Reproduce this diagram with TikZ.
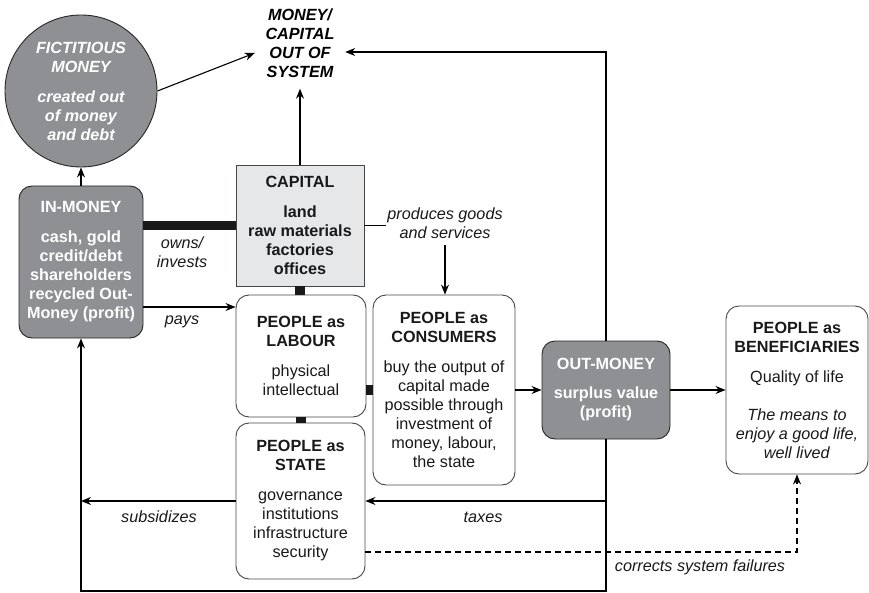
\documentclass[tikz,border=0pt]{standalone}
\usepackage{fontspec}
\setmainfont{Liberation Sans}
\usetikzlibrary{arrows.meta}
\definecolor{dk}{RGB}{143,144,147}
\definecolor{lt}{RGB}{230,231,233}
\definecolor{bd}{RGB}{70,70,70}
\begin{document}
\begin{tikzpicture}[x=1pt,y=-1pt,
  font=\fontsize{16.2}{19}\selectfont,
  box/.style={draw=bd, line width=0.9pt, rounded corners=13pt, align=center, inner sep=0pt, text=black!90},
  dbox/.style={box, fill=dk, draw=black!85, text=white, font=\fontsize{16.2}{19}\selectfont\bfseries},
  conn/.style={line width=1.1pt, -{Stealth[length=10pt,width=8pt]}},
  plain/.style={line width=1.1pt},
  lbl/.style={font=\fontsize{16.2}{19}\selectfont\itshape, align=center, inner sep=1pt, text=black!90},
  joint/.style={line width=10pt, black!90}]
\useasboundingbox (0,0) rectangle (869,593);

% nodes
\node[circle, fill=dk, draw=black!85, line width=0.9pt, minimum size=152pt, inner sep=0pt,
      align=center, text=white, font=\fontsize{16.2}{19}\selectfont\bfseries\itshape]
      (fict) at (81,91) {FICTITIOUS\\MONEY\\[11pt]created out\\of money\\and debt};
\node[align=center, minimum width=90pt, minimum height=90pt, inner sep=0pt,
      font=\fontsize{16.2}{19}\selectfont\bfseries\itshape]
      (mc) at (300,43.5) {MONEY/\\CAPITAL\\OUT OF\\SYSTEM};
\node[draw=bd, fill=lt, line width=0.9pt, minimum width=128pt, minimum height=121pt,
      align=center, inner sep=0pt, text=black!90, font=\fontsize{16.2}{19}\selectfont\bfseries]
      (cap) at (300,225.5) {CAPITAL\\[11pt]land\\raw materials\\factories\\offices};
\node[dbox, minimum width=124pt, minimum height=152pt] (inm) at (81,262)
      {IN-MONEY\\[11pt]cash, gold\\credit/debt\\shareholders\\recycled Out-\\Money (profit)};
\node[box, minimum width=130pt, minimum height=122pt] (lab) at (301,356)
      {\textbf{PEOPLE as}\\\textbf{LABOUR}\\[11pt]physical\\intellectual};
\node[box, minimum width=142pt, minimum height=190pt] (con) at (444,390)
      {\textbf{PEOPLE as}\\\textbf{CONSUMERS}\\[11pt]buy the output of\\capital made\\possible through\\investment of\\money, labour,\\the state};
\node[box, minimum width=129pt, minimum height=156pt] (st) at (300.5,501)
      {\textbf{PEOPLE as}\\\textbf{STATE}\\[11pt]governance\\institutions\\infrastructure\\security};
\node[dbox, minimum width=128pt, minimum height=98pt] (om) at (606,390)
      {OUT-MONEY\\[10pt]surplus value\\(profit)};
\node[box, minimum width=142pt, minimum height=168pt] (ben) at (797,390)
      {\textbf{PEOPLE as}\\\textbf{BENEFICIARIES}\\[11pt]Quality of life\\[19pt]\textit{The means to}\\\textit{enjoy a good life,}\\\textit{well lived}};

% labels
\node[lbl] (own) at (182,252.5) {owns/\\invests};
\node[lbl] (pay) at (182,322) {pays};
\node[lbl] (prod) at (445,223) {produces goods\\and services};
\node[lbl] (sub) at (159,517) {subsidizes};
\node[lbl] (tax) at (483,517) {taxes};
\node[lbl] (cor) at (700,567) {corrects system failures};

% joints
\draw[joint, line width=9pt] (inm.east |- cap.center) -- (cap.west);
\draw[joint] (cap.south) -- (lab.north -| cap.south);
\draw[joint] (lab.south) -- (st.north -| lab.south);
\draw[joint] (lab.east |- con.center) -- (con.west);

% connectors
\coordinate (bot) at (0,591);
\draw[conn] (inm.east |- 0,307) -- (lab.west |- 0,307);
\draw[plain] (cap.east) -- (cap.east -| prod.west);
\draw[conn, shorten <=5pt] (prod.south) -- (prod.south |- con.north);
\draw[conn] (con.east) -- (om.west);
\draw[conn] (om.east) -- (ben.west);
\draw[conn] (om.north) |- ([yshift=-8.5pt]mc.east);
\draw[conn] (cap.north) -- (mc.south);
\draw[conn] (fict.east) -- ([yshift=-9.5pt]mc.west);
\draw[conn] (inm.north) -- (fict.south);
\draw[conn] (om.south) |- (st.east);
\draw[conn] (om.south) -- (om.south |- bot) -| (inm.south);
\draw[conn] (st.west) -- (st.west -| inm.south);
\draw[conn, dash pattern=on 6pt off 4pt] (st.east |- 0,552) -| (ben.south);
\end{tikzpicture}
\end{document}
